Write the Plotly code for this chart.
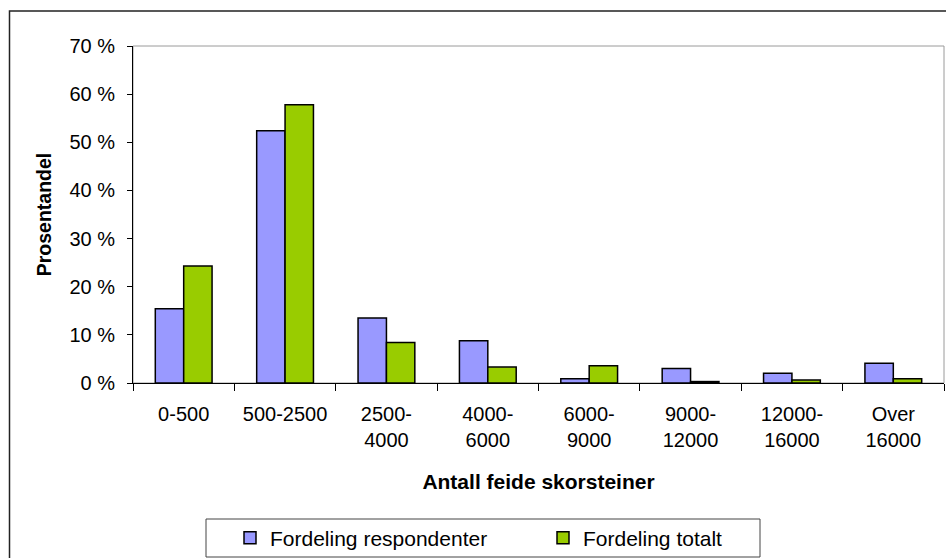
import plotly.graph_objects as go

# Chimney-sweep volume classes and percentage shares
categories = ["0-500", "500-2500", "2500-<br>4000", "4000-<br>6000", "6000-<br>9000",
              "9000-<br>12000", "12000-<br>16000", "Over<br>16000"]
respondenter = [15.4, 52.4, 13.5, 8.8, 0.9, 3.0, 2.0, 4.1]
totalt = [24.3, 57.8, 8.4, 3.3, 3.6, 0.3, 0.6, 0.9]
y_ticks = [0, 10, 20, 30, 40, 50, 60, 70]

FONT = "Liberation Sans, Arial, sans-serif"

fig = go.Figure()
fig.add_trace(go.Bar(name="Fordeling respondenter", x=categories, y=respondenter,
                     marker=dict(color="#9999FF", line=dict(color="#000000", width=1.5))))
fig.add_trace(go.Bar(name="Fordeling totalt", x=categories, y=totalt,
                     marker=dict(color="#99CC00", line=dict(color="#000000", width=1.5))))

W, H = 946, 558
L, R, T, B = 133, 2, 46, 175
pw, ph = W - L - R, H - T - B

def px(x):
    return (x - L) / pw

def py(y):
    return (H - B - y) / ph

shapes = [
    # outer chart frame
    dict(type="rect", xref="paper", yref="paper", x0=px(9.5), y0=py(600), x1=px(990), y1=py(11),
         line=dict(color="#222222", width=1.5), fillcolor="rgba(0,0,0,0)", layer="below"),
    # plot-area border
    dict(type="rect", xref="paper", yref="paper", x0=0, y0=0, x1=1, y1=1,
         line=dict(color="#9a9a9a", width=1), fillcolor="rgba(0,0,0,0)", layer="below"),
    # legend box
    dict(type="rect", xref="paper", yref="paper", x0=px(206), y0=py(557), x1=px(760), y1=py(519),
         line=dict(color="#444444", width=1), fillcolor="#ffffff", layer="below"),
]

fig.update_layout(
    width=W, height=H,
    margin=dict(l=L, r=R, t=T, b=B, autoexpand=False),
    paper_bgcolor="#ffffff", plot_bgcolor="#ffffff",
    font=dict(family=FONT, size=20, color="#000000"),
    barmode="group", bargap=0.44, bargroupgap=0,
    shapes=shapes,
    showlegend=True,
    legend=dict(orientation="h", x=px(230), xanchor="left", y=py(538), yanchor="middle",
                bgcolor="rgba(0,0,0,0)", borderwidth=0, entrywidth=268, entrywidthmode="pixels",
                font=dict(family=FONT, size=21, color="#000000"), traceorder="normal"),
    xaxis=dict(
        type="category", tickson="boundaries", ticks="outside", ticklen=7, tickcolor="#000000",
        showline=True, linecolor="#000000", linewidth=1, showgrid=False, automargin=False,
        tickfont=dict(family=FONT, size=20), ticklabelstandoff=13,
        title=dict(text="<b>Antall feide skorsteiner</b>", font=dict(family=FONT, size=21), standoff=24),
    ),
    yaxis=dict(
        range=[0, 70], tickvals=y_ticks, ticktext=[f"{v} %" for v in y_ticks],
        ticks="outside", ticklen=5, tickcolor="#000000", automargin=False,
        showline=True, linecolor="#000000", linewidth=1, showgrid=False, zeroline=False,
        tickfont=dict(family=FONT, size=20), ticklabelstandoff=8,
        title=dict(text="<b>Prosentandel</b>", font=dict(family=FONT, size=19.5), standoff=12),
    ),
)

fig.write_html("out.html")
